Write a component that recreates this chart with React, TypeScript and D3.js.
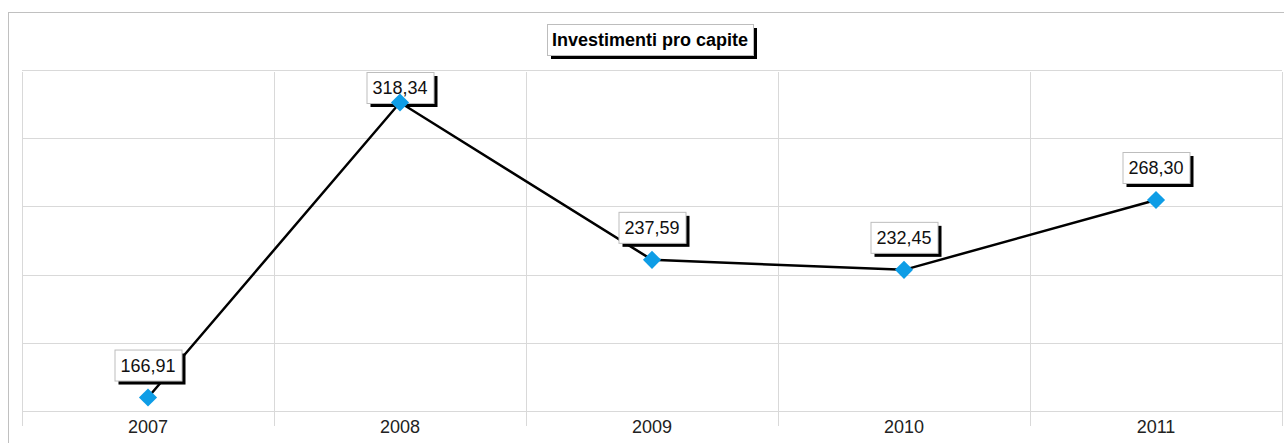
import React from "react";
import * as d3 from "d3";

const categories = ["2007", "2008", "2009", "2010", "2011"];
const values = [166.91, 318.34, 237.59, 232.45, 268.3];
const yTicks = [160, 195, 230, 265, 300, 335];
const title = "Investimenti pro capite";

const W = 1284;
const H = 443;
const plot = { left: 22, top: 72, right: 1282, bottom: 411 };

const fmt = (v: number) => v.toFixed(2).replace(".", ",");

export default function App() {
  const x = d3
    .scaleBand<string>()
    .domain(categories)
    .range([plot.left, plot.right]);
  const y = d3.scaleLinear().domain([160, 334]).range([plot.bottom, plot.top]);
  const cx = (c: string) => (x(c) as number) + x.bandwidth() / 2;

  const line = d3
    .line<number>()
    .x((_, i) => cx(categories[i]))
    .y((d) => y(d));

  const edges = categories.map((c) => x(c) as number).concat([plot.right]);
  const diamond = d3.symbol().type(d3.symbolDiamond2).size(210)() as string;

  return (
    <svg
      width={W}
      height={H}
      style={{ position: "absolute", left: 0, top: 0, fontFamily: "Arial, Liberation Sans, sans-serif" }}
    >
      <rect x={0} y={0} width={W} height={H} fill="#fff" />
      <rect x={8.5} y={12.5} width={W - 8} height={H} fill="#fff" stroke="#c0c0c0" />
      {/* horizontal grid */}
      {yTicks.map((t) => (
        <line key={t} x1={plot.left} x2={plot.right} y1={Math.round(y(t)) + 0.5} y2={Math.round(y(t)) + 0.5} stroke="#d9d9d9" />
      ))}
      {/* vertical grid + ticks */}
      {edges.map((e, i) => (
        <line key={i} x1={Math.round(e) + 0.5} x2={Math.round(e) + 0.5} y1={plot.top} y2={plot.bottom + 15} stroke="#d9d9d9" />
      ))}
      {/* x labels */}
      {categories.map((c) => (
        <text key={c} x={cx(c)} y={plot.bottom + 22} fontSize={18} fill="#222" textAnchor="middle">
          {c}
        </text>
      ))}
      {/* line */}
      <path d={line(values) as string} fill="none" stroke="#000" strokeWidth={2.5} />
      {/* labels */}
      {values.map((v, i) => {
        const bw = 67;
        const bh = 31;
        const px = cx(categories[i]);
        let top = y(v) - 17 - bh;
        if (top < plot.top) top = plot.top;
        const left = px - bw / 2;
        return (
          <g key={i}>
            <rect x={left + 4} y={top + 4} width={bw} height={bh} fill="#000" />
            <rect x={left + 0.5} y={top + 0.5} width={bw} height={bh} fill="#fff" stroke="#bdbdbd" />
            <text x={px} y={top + 22} fontSize={18} fill="#111" textAnchor="middle">
              {fmt(v)}
            </text>
          </g>
        );
      })}
      {/* markers */}
      {values.map((v, i) => (
        <path key={i} d={diamond} transform={`translate(${cx(categories[i])},${y(v)})`} fill="#0e9de6" />
      ))}
      {/* title */}
      <g>
        <rect x={551} y={28} width={206} height={31} fill="#000" />
        <rect x={547.5} y={24.5} width={206} height={31} fill="#fff" stroke="#bdbdbd" />
        <text x={650} y={46} fontSize={18} fontWeight="bold" fill="#000" textAnchor="middle">
          {title}
        </text>
      </g>
    </svg>
  );
}
